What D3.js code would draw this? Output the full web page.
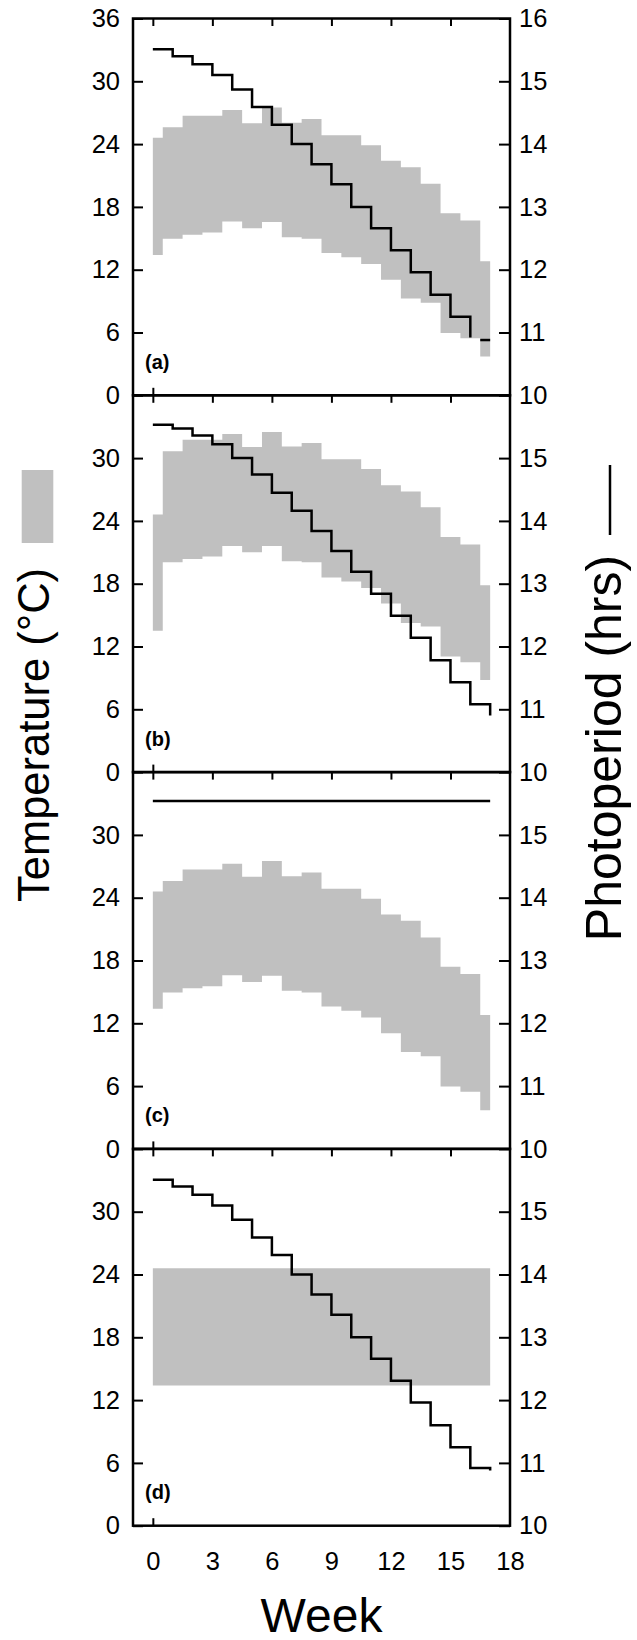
<!DOCTYPE html>
<html>
<head>
<meta charset="utf-8">
<script src="https://cdn.jsdelivr.net/npm/d3@7"></script>
<style>
  body { margin: 0; background: #fff; }
  text { font-family: "Liberation Sans", Arial, sans-serif; fill: #000; }
</style>
</head>
<body>
<div id="chart"></div>
<script>
var weeks = [0, 1, 2, 3, 4, 5, 6, 7, 8, 9, 10, 11, 12, 13, 14, 15, 16, 17];

// ambient temperature range (panels a, c)
var ambientHigh = [24.6, 25.6, 26.7, 26.7, 27.25, 26.0, 27.5, 26.05, 26.4, 24.85, 24.85, 23.9, 22.4, 21.8, 20.2, 17.4, 16.7, 12.8];
var ambientLow  = [13.4, 14.95, 15.35, 15.55, 16.6, 15.95, 16.55, 15.1, 14.95, 13.6, 13.2, 12.55, 11.05, 9.25, 8.85, 5.95, 5.45, 3.7];

// warmed temperature range (panel b)
var warmedHigh = [24.6, 30.65, 31.75, 31.75, 32.3, 31.05, 32.5, 31.1, 31.45, 29.9, 29.9, 28.95, 27.4, 26.8, 25.3, 22.45, 21.75, 17.85];
var warmedLow  = [13.5, 20.05, 20.35, 20.6, 21.6, 21.0, 21.6, 20.15, 20.05, 18.6, 18.2, 17.6, 16.1, 14.25, 13.9, 11.05, 10.5, 8.8];

// constant temperature range (panel d)
var constHigh = [24.6, 24.6, 24.6, 24.6, 24.6, 24.6, 24.6, 24.6, 24.6, 24.6, 24.6, 24.6, 24.6, 24.6, 24.6, 24.6, 24.6, 24.6];
var constLow  = [13.4, 13.4, 13.4, 13.4, 13.4, 13.4, 13.4, 13.4, 13.4, 13.4, 13.4, 13.4, 13.4, 13.4, 13.4, 13.4, 13.4, 13.4];

// photoperiod (hrs)
var photoNatural = [15.51, 15.40, 15.27, 15.10, 14.87, 14.59, 14.31, 14.00, 13.68, 13.36, 13.00, 12.66, 12.31, 11.96, 11.60, 11.25, 10.92, 10.88];
var photoShifted = [15.53, 15.47, 15.36, 15.22, 15.00, 14.74, 14.45, 14.16, 13.84, 13.52, 13.19, 12.84, 12.49, 12.14, 11.78, 11.43, 11.08, 10.90];
var photoConst   = [15.54, 15.54, 15.54, 15.54, 15.54, 15.54, 15.54, 15.54, 15.54, 15.54, 15.54, 15.54, 15.54, 15.54, 15.54, 15.54, 15.54, 15.54];

var tempTicks = [0, 6, 12, 18, 24, 30, 36];
var photoTicks = [10, 11, 12, 13, 14, 15, 16];
var weekTicks = [0, 3, 6, 9, 12, 15, 18];

var panels = [
    { label: "(a)", high: ambientHigh, low: ambientLow, photo: photoNatural, gap: true },
    { label: "(b)", high: warmedHigh, low: warmedLow, photo: photoShifted },
    { label: "(c)", high: ambientHigh, low: ambientLow, photo: photoConst },
    { label: "(d)", high: constHigh, low: constLow, photo: photoNatural }
];

var width = 637, height = 1640;
var plot = { left: 133, right: 510, top: 18.5, panelH: 376.8 };
var grey = "#c0c0c0";

var svg = d3.select("#chart")
    .append("svg")
        .attr("width", width)
        .attr("height", height);

var x = d3.scaleLinear().domain([-1, 18]).range([plot.left, plot.right]);

panels.forEach(function(p, i) {
    var top = plot.top + i * plot.panelH;
    var bottom = top + plot.panelH;
    var yT = d3.scaleLinear().domain([0, 36]).range([bottom, top]);
    var yP = d3.scaleLinear().domain([10, 16]).range([bottom, top]);
    var g = svg.append("g").attr("class", "panel");

    var band = d3.area()
        .curve(d3.curveStep)
        .x(function(d, j) { return x(weeks[j]); })
        .y0(function(d, j) { return yT(p.low[j]); })
        .y1(function(d, j) { return yT(p.high[j]); });

    g.append("path")
        .datum(p.high)
        .attr("d", band)
        .attr("fill", grey);

    var line = d3.line()
        .curve(d3.curveStepAfter)
        .x(function(d) { return x(d[0]); })
        .y(function(d) { return yP(d[1]); });

    var pts = weeks.map(function(w, j) { return [w, p.photo[j]]; });
    if (p.gap) {
        // last week drawn only over its second half in the original
        g.append("path")
            .datum(pts.slice(0, 17))
            .attr("d", line)
            .attr("fill", "none").attr("stroke", "#000").attr("stroke-width", 2.5);
        g.append("path")
            .datum([[16.5, p.photo[17]], [17, p.photo[17]]])
            .attr("d", line)
            .attr("fill", "none").attr("stroke", "#000").attr("stroke-width", 2.5);
    } else {
        g.append("path")
            .datum(pts)
            .attr("d", line)
            .attr("fill", "none").attr("stroke", "#000").attr("stroke-width", 2.5);
    }

    // axes, ticks pointing inward
    var leftVals = i === 0 ? tempTicks : tempTicks.slice(0, 6);
    var rightVals = i === 0 ? photoTicks : photoTicks.slice(0, 6);

    var ax = g.append("g")
        .attr("transform", "translate(" + plot.left + ",0)")
        .call(d3.axisLeft(yT).tickValues(leftVals).tickSize(-10).tickPadding(13).tickFormat(d3.format("d")));
    var ay = g.append("g")
        .attr("transform", "translate(" + plot.right + ",0)")
        .call(d3.axisRight(yP).tickValues(rightVals).tickSize(-11).tickPadding(9).tickFormat(d3.format("d")));
    var at = g.append("g")
        .attr("transform", "translate(0," + top + ")")
        .call(d3.axisTop(x).tickValues(weekTicks.slice(0, 6)).tickSize(-7.5).tickFormat(""));
    var ab = g.append("g")
        .attr("transform", "translate(0," + bottom + ")")
        .call(d3.axisBottom(x).tickValues([0]).tickSize(-7.5).tickFormat(""));

    [ax, ay, at, ab].forEach(function(a) {
        a.select(".domain").remove();
        a.selectAll("line").attr("stroke-width", 2);
        a.selectAll("text").style("font-size", "25.5px").attr("fill", "#000");
    });

    if (i === panels.length - 1) {
        var lab = g.append("g")
            .attr("transform", "translate(0," + bottom + ")")
            .call(d3.axisBottom(x).tickValues(weekTicks).tickSize(0).tickPadding(26));
        lab.select(".domain").remove();
        lab.selectAll("text").style("font-size", "25.5px").attr("fill", "#000");
    }

    g.append("rect")
        .attr("x", plot.left)
        .attr("y", top)
        .attr("width", plot.right - plot.left)
        .attr("height", plot.panelH)
        .attr("fill", "none")
        .attr("stroke", "#000")
        .attr("stroke-width", 2.5);

    g.append("text")
        .attr("x", plot.left + 12)
        .attr("y", bottom - 26.5)
        .style("font-size", "20px")
        .style("font-weight", "bold")
        .text(p.label);
});

// axis titles + legend swatches
svg.append("rect")
    .attr("x", 21.7).attr("y", 470)
    .attr("width", 31.6).attr("height", 73)
    .attr("fill", grey);

svg.append("text")
    .attr("transform", "translate(49,735)rotate(-90)")
    .style("text-anchor", "middle")
    .style("font-size", "43.5px")
    .text("Temperature (°C)");

svg.append("line")
    .attr("x1", 610).attr("x2", 610)
    .attr("y1", 465).attr("y2", 535)
    .attr("stroke", "#000")
    .attr("stroke-width", 2.5);

svg.append("text")
    .attr("transform", "translate(621,748)rotate(-90)")
    .style("text-anchor", "middle")
    .style("font-size", "50px")
    .text("Photoperiod (hrs)");

svg.append("text")
    .attr("x", (plot.left + plot.right) / 2)
    .attr("y", 1631.5)
    .style("text-anchor", "middle")
    .style("font-size", "48px")
    .text("Week");
</script>
</body>
</html>
